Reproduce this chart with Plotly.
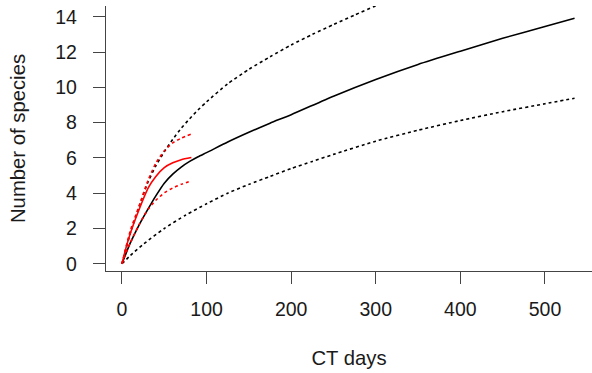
import plotly.graph_objects as go

# Black: rarefaction / extrapolation curve (all data) with 95% bounds
black_days = [0, 5, 10, 20, 30, 40, 50, 60, 70, 80, 90, 100, 125, 150, 175, 200, 250, 300, 350, 400, 450, 500, 535]
black_mean = [0, 0.62, 1.2, 2.18, 3.04, 3.85, 4.57, 5.08, 5.48, 5.8, 6.07, 6.3, 6.9, 7.45, 7.97, 8.45, 9.5, 10.45, 11.3, 12.05, 12.78, 13.45, 13.92]

black_up_days = [0, 5, 10, 20, 30, 40, 50, 60, 70, 80, 90, 100, 125, 150, 175, 200, 225, 250, 275, 300, 325]
black_up = [0, 0.9, 1.75, 3.2, 4.55, 5.55, 6.35, 7.05, 7.68, 8.22, 8.72, 9.18, 10.2, 11.02, 11.73, 12.4, 13.0, 13.56, 14.1, 14.62, 15.1]

black_lo_days = [0, 10, 25, 50, 75, 100, 125, 150, 175, 200, 225, 250, 300, 350, 400, 450, 500, 535]
black_lo = [0, 0.47, 1.1, 2.0, 2.75, 3.4, 4.0, 4.5, 4.95, 5.4, 5.8, 6.2, 6.95, 7.57, 8.12, 8.62, 9.07, 9.38]

# Red: second sampling period
red_days = [0, 5, 10, 20, 31, 40, 50, 60, 70, 82]
red_mean = [0, 0.95, 1.75, 3.05, 4.3, 4.95, 5.45, 5.72, 5.9, 6.02]
red_up = [0, 1.0, 1.9, 3.25, 4.75, 5.7, 6.4, 6.85, 7.12, 7.35]
red_lo = [0, 0.68, 1.2, 2.2, 3.1, 3.6, 4.02, 4.3, 4.5, 4.7]

x_ticks = [0, 100, 200, 300, 400, 500]
y_ticks = [0, 2, 4, 6, 8, 10, 12, 14]

fig = go.Figure()
line_w = 1.6
fig.add_trace(go.Scatter(x=black_days, y=black_mean, mode="lines",
                         line=dict(color="black", width=line_w, shape="spline", smoothing=0.6)))
fig.add_trace(go.Scatter(x=black_up_days, y=black_up, mode="lines",
                         line=dict(color="black", width=line_w, dash="dot", shape="spline", smoothing=0.6)))
fig.add_trace(go.Scatter(x=black_lo_days, y=black_lo, mode="lines",
                         line=dict(color="black", width=line_w, dash="dot", shape="spline", smoothing=0.6)))
fig.add_trace(go.Scatter(x=red_days, y=red_mean, mode="lines",
                         line=dict(color="#ff0000", width=line_w, shape="spline", smoothing=0.6)))
fig.add_trace(go.Scatter(x=red_days, y=red_up, mode="lines",
                         line=dict(color="#ff0000", width=line_w, dash="dot", shape="spline", smoothing=0.6)))
fig.add_trace(go.Scatter(x=red_days, y=red_lo, mode="lines",
                         line=dict(color="#ff0000", width=line_w, dash="dot", shape="spline", smoothing=0.6)))

tick_font = dict(family="Liberation Sans, Arial, sans-serif", size=19.5, color="#1a1a1a")
title_font = dict(family="Liberation Sans, Arial, sans-serif", size=20.3, color="#1a1a1a")
fig.update_layout(
    width=592, height=373,
    margin=dict(l=106, r=0, t=6, b=102),
    paper_bgcolor="white", plot_bgcolor="white",
    showlegend=False,
    font=tick_font,
    xaxis=dict(range=[-18.9, 555.6], tickvals=x_ticks, ticktext=[str(v) for v in x_ticks],
               showgrid=False, zeroline=False, showline=True, linecolor="#444", linewidth=1.3,
               ticks="outside", ticklen=12, tickwidth=1.3, tickcolor="#444",
               ticklabelstandoff=8, tickfont=tick_font,
               title=dict(text="CT days", standoff=32, font=title_font)),
    yaxis=dict(range=[-0.41, 14.61], tickvals=y_ticks, ticktext=[str(v) for v in y_ticks],
               showgrid=False, zeroline=False, showline=True, linecolor="#444", linewidth=1.3,
               ticks="outside", ticklen=12, tickwidth=1.3, tickcolor="#444",
               ticklabelstandoff=12, tickfont=tick_font,
               title=dict(text="Number of species", standoff=24, font=title_font)),
)
fig.write_html("out.html")
